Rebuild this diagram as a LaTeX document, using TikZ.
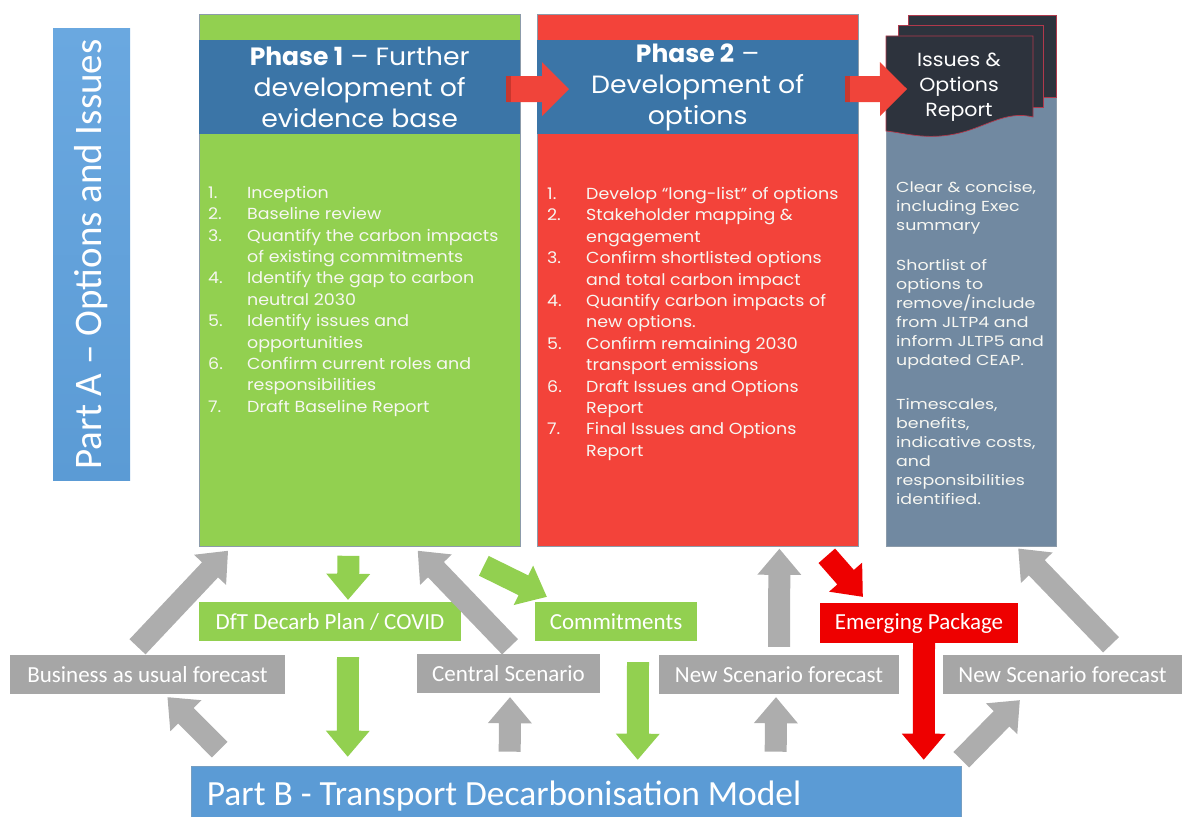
\documentclass[tikz,border=0pt]{standalone}
\usepackage{fontspec}
\setmainfont{Carlito}
\newfontfamily\geo{Poppins}
\newfontfamily\geohead[FakeStretch=1.07]{Poppins}
\newfontfamily\geolist[FakeStretch=1.09]{Poppins}
\newfontfamily\georep[FakeStretch=1.2]{Poppins}
\newfontfamily\geodoc[FakeStretch=1.08]{Poppins}
\usetikzlibrary{calc}

\definecolor{colgreen}{HTML}{92D050}
\definecolor{hdrblue}{HTML}{3B75A7}
\definecolor{colred}{HTML}{F3433A}
\definecolor{slate}{HTML}{7189A1}
\definecolor{docdark}{HTML}{2D333D}
\definecolor{docedge}{HTML}{B0394C}
\definecolor{partblue}{HTML}{5B9BD5}
\definecolor{partbluelight}{HTML}{6AA8E0}
\definecolor{tagrey}{HTML}{A6A6A6}
\definecolor{arrgrey}{HTML}{ADADAD}
\definecolor{pkgred}{HTML}{EE0000}
\definecolor{hdrarrow}{HTML}{F0443A}
\definecolor{hdrarrowdark}{HTML}{C8372E}
\definecolor{colline}{HTML}{8C9BAA}
\definecolor{softwhite}{HTML}{F7F7F2}

% block arrow: colour, tail, tip, shaft half width, head half width, head length
\newcommand\blockarrow[6]{%
  \fill[#1] let \p1=(#2), \p2=(#3),
      \n1={atan2(\y2-\y1,\x2-\x1)}, \n2={veclen(\x2-\x1,\y2-\y1)} in
    ($(\p1)+(\n1+90:#4)$)
    -- ($(\p1)+(\n1:\n2-#6)+(\n1+90:#4)$)
    -- ($(\p1)+(\n1:\n2-#6)+(\n1+90:#5)$)
    -- (\p2)
    -- ($(\p1)+(\n1:\n2-#6)+(\n1-90:#5)$)
    -- ($(\p1)+(\n1:\n2-#6)+(\n1-90:#4)$)
    -- ($(\p1)+(\n1-90:#4)$) -- cycle;}
\newcommand\flowarrow[3]{\blockarrow{#1}{#2}{#3}{11pt}{22pt}{26pt}}

\newcommand\itm[1]{\makebox[39pt][l]{#1.}}
\newcommand\cnt{\hspace*{39pt}}

\tikzset{
  column/.style={draw=colline, line width=0.8pt, minimum width=321pt,
    minimum height=532pt, anchor=north west, inner sep=0pt},
  header/.style={fill=hdrblue, minimum width=321pt, minimum height=94pt,
    anchor=north west, inner sep=0pt},
  headtext/.style={text=white, align=center, font=\geohead\fontsize{25}{31}\selectfont},
  listtext/.style={text=softwhite, align=left, anchor=north west, inner sep=0pt,
    font=\geolist\fontsize{16}{21.4}\selectfont},
  tag/.style={text=white, font=\fontsize{23}{27}\selectfont, minimum height=39pt,
    inner sep=0pt},
  greytag/.style={tag, fill=tagrey},
  greentag/.style={tag, fill=colgreen},
  redtag/.style={tag, fill=pkgred, minimum height=40pt},
}

\begin{document}
\begin{tikzpicture}[x=1pt,y=-1pt]
\path[use as bounding box] (0,0) rectangle (1182,816);
\clip (0,0) rectangle (1182,816);

% Part A banner
\node[top color=partbluelight, bottom color=partblue, minimum width=77pt,
  minimum height=451pt, inner sep=0pt] (parta) at (91.5,254.5) {};
\node[rotate=90, text=white, font=\fontsize{39}{41}\selectfont] (partatext) at (parta) {Part A – Options and Issues};

% Phase columns
\node[column, fill=colgreen] (ph1) at (199,14) {};
\node[header] (ph1head) at (199,40) {};
\node[headtext] (ph1title) at (ph1head) {{\geo\bfseries Phase 1} – Further\\development of\\evidence base};

\node[column, fill=colred] (ph2) at (537,14) {};
\node[header] (ph2head) at (537,40) {};
\node[headtext] (ph2title) at (ph2head) {{\geo\bfseries Phase 2} –\\Development of\\options};

% Report column with stacked document
\node[fill=slate, draw=colline, line width=0.6pt, minimum width=170pt,
  minimum height=455pt, anchor=north west, inner sep=0pt] (report) at (886,91) {};
\coordinate (docfront) at (886,36);
\filldraw[fill=docdark, draw=docedge, line width=0.7pt] (908,15) rectangle (1056,97);
\filldraw[fill=docdark, draw=docedge, line width=0.7pt] (898,25) rectangle (1043,107);
\filldraw[fill=docdark, draw=docedge, line width=0.7pt]
  (docfront) -- (1033,36) -- (1033,117)
  .. controls (1005,110) and (985,128) .. (955,134)
  .. controls (925,140) and (905,133) .. (886,131) -- cycle;
\node[text=white, align=center, font=\geodoc\fontsize{19}{25}\selectfont] (doctitle)
  at (959,87) {Issues \&\\Options\\Report};

% Task lists
\node[listtext] (list1) at (208,186) {%
\itm{1}Inception\\
\itm{2}Baseline review\\
\itm{3}Quantify the carbon impacts\\
\cnt of existing commitments\\
\itm{4}Identify the gap to carbon\\
\cnt neutral 2030\\
\itm{5}Identify issues and\\
\cnt opportunities\\
\itm{6}Confirm current roles and\\
\cnt responsibilities\\
\itm{7}Draft Baseline Report};

\node[listtext] (list2) at (547,187) {%
\itm{1}Develop “long-list” of options\\
\itm{2}Stakeholder mapping \&\\
\cnt engagement\\
\itm{3}Confirm shortlisted options\\
\cnt and total carbon impact\\
\itm{4}Quantify carbon impacts of\\
\cnt new options.\\
\itm{5}Confirm remaining 2030\\
\cnt transport emissions\\
\itm{6}Draft Issues and Options\\
\cnt Report\\
\itm{7}Final Issues and Options\\
\cnt Report};

\node[listtext, font=\georep\fontsize{14.5}{19}\selectfont] (list3) at (896,181) {%
Clear \& concise,\\
including Exec\\
summary\\[21pt]
Shortlist of\\
options to\\
remove/include\\
from JLTP4 and\\
inform JLTP5 and\\
updated CEAP.\\[25pt]
Timescales,\\
benefits,\\
indicative costs,\\
and\\
responsibilities\\
identified.};

% Inputs and outputs
\node[greentag, minimum width=262pt] (dft) at (330,621.5) {DfT Decarb Plan / COVID};
\node[greentag, minimum width=162pt] (commit) at (616,621.5) {Commitments};
\node[redtag, minimum width=198pt] (emerg) at (919,623) {Emerging Package};
\node[greytag, minimum width=275pt] (bau) at (147.5,674.5) {Business as usual forecast};
\node[greytag, minimum width=183pt] (central) at (508.5,673.5) {Central Scenario};
\node[greytag, minimum width=240pt] (news1) at (779,674.5) {New Scenario forecast};
\node[greytag, minimum width=239pt] (news2) at (1062.5,674.5) {New Scenario forecast};

% Part B banner
\node[fill=partblue, draw=hdrblue!70, line width=0.6pt, minimum width=770pt,
  minimum height=60pt, inner sep=0pt] (partb) at (576,796) {};
\node[anchor=west, text=white, font=\fontsize{35.4}{40}\selectfont, inner sep=0pt]
  (partbtext) at ([xshift=16pt]partb.west) {Part B - Transport Decarbonisation Model};

% Phase-to-phase arrows
\blockarrow{hdrarrow}{$(ph1head.east)+(-14,2)$}{$(ph2head.west)+(32,2)$}{13pt}{27pt}{27pt}
\fill[hdrarrowdark] ($(ph1head.east)+(-14,-11)$) rectangle ($(ph1head.east)+(-9,15)$);
\blockarrow{hdrarrow}{$(ph2head.east)+(-13,2)$}{$(docfront)+(21,53)$}{13pt}{27pt}{27pt}
\fill[hdrarrowdark] ($(ph2head.east)+(-13,-11)$) rectangle ($(ph2head.east)+(-8,15)$);

% Flow arrows
\flowarrow{arrgrey}{$(bau.north)+(-10,-8)$}{$(ph1.south west)+(29,4)$}
\flowarrow{arrgrey}{$(partb.north west)+(29,-16)$}{$(bau.south)+(20,3)$}
\flowarrow{colgreen}{$(ph1.south)+(-11.5,9)$}{$(dft.north)+(18,-2)$}
\flowarrow{colgreen}{$(dft.south)+(18,16)$}{$(partb.north west)+(157,-9)$}
\flowarrow{arrgrey}{$(central.north)+(1.5,-7)$}{$(ph1.south east)+(-103,4)$}
\flowarrow{colgreen}{$(ph1.south east)+(-37,19)$}{$(commit.north west)+(12,-5)$}
\flowarrow{arrgrey}{$(partb.north west)+(319,-14)$}{$(central.south)+(1.5,4)$}
\flowarrow{colgreen}{$(commit.south)+(22,21)$}{$(partb.north west)+(447,-6)$}
\flowarrow{arrgrey}{$(news1.north)+(0,-8)$}{$(ph2.south)+(81.5,2)$}
\flowarrow{pkgred}{$(ph2.south east)+(-32,9)$}{$(emerg.north west)+(43,-6)$}
\flowarrow{arrgrey}{$(partb.north west)+(585,-14)$}{$(news1.south)+(-3,3)$}
\flowarrow{pkgred}{$(emerg.south)+(5,0)$}{$(partb.north west)+(733,-6)$}
\flowarrow{arrgrey}{$(partb.north east)+(0,-6)$}{$(news2.south west)+(77,6)$}
\flowarrow{arrgrey}{$(news2.north)+(48.5,-10)$}{$(report.south)+(47,2)$}
\end{tikzpicture}
\end{document}
